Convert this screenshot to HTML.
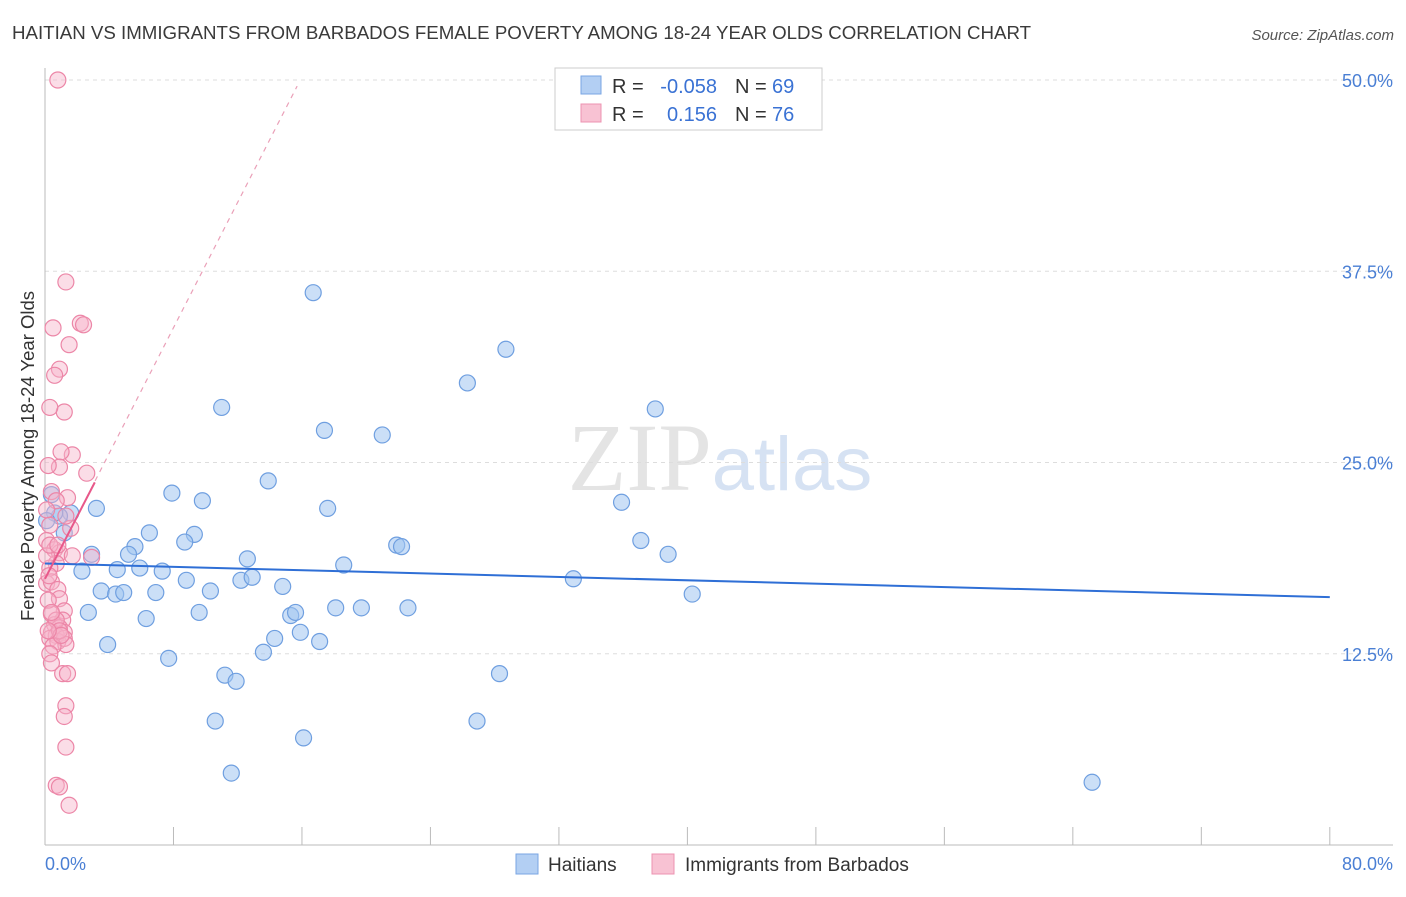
<!DOCTYPE html>
<html><head><meta charset="utf-8">
<style>
body{margin:0;background:#fff;font-family:"Liberation Sans",sans-serif;}
</style></head>
<body>
<svg id="chart" width="1406" height="892" xmlns="http://www.w3.org/2000/svg" font-family="Liberation Sans, sans-serif">
<text x="12" y="39" font-size="18.7" fill="#3a3a3a">HAITIAN VS IMMIGRANTS FROM BARBADOS FEMALE POVERTY AMONG 18-24 YEAR OLDS CORRELATION CHART</text>
<text x="1394" y="40" font-size="15" fill="#555" text-anchor="end" font-style="italic">Source: ZipAtlas.com</text>
<text x="720" y="490" font-size="96" fill="#e4e4e4" text-anchor="middle" font-family="Liberation Serif, serif">ZIP<tspan fill="#d6e2f3" font-family="Liberation Sans, sans-serif" font-size="76">atlas</tspan></text>
<g id="grid"></g>
<g id="axes"></g>
<g id="marks"></g>
<text transform="translate(34,456) rotate(-90)" font-size="18.5" fill="#333" text-anchor="middle">Female Poverty Among 18-24 Year Olds</text>
<g>
<rect x="555" y="68" width="267" height="62" fill="#fff" stroke="#ccc"/>
<rect x="581" y="76" width="20" height="18" fill="#b3cff3" stroke="#7aa6e3"/>
<rect x="581" y="104" width="20" height="18" fill="#f8c2d3" stroke="#ec93b0"/>
<text x="612" y="93" font-size="20" fill="#333">R =</text>
<text x="717" y="93" font-size="20" fill="#3a72d4" text-anchor="end">-0.058</text>
<text x="735" y="93" font-size="20" fill="#333">N =</text>
<text x="772" y="93" font-size="20" fill="#3a72d4">69</text>
<text x="612" y="121" font-size="20" fill="#333">R =</text>
<text x="717" y="121" font-size="20" fill="#3a72d4" text-anchor="end">0.156</text>
<text x="735" y="121" font-size="20" fill="#333">N =</text>
<text x="772" y="121" font-size="20" fill="#3a72d4">76</text>
</g>
<g>
<rect x="516" y="854" width="22" height="20" fill="#b3cff3" stroke="#7aa6e3"/>
<text x="548" y="871" font-size="19" fill="#333">Haitians</text>
<rect x="652" y="854" width="22" height="20" fill="#f8c2d3" stroke="#ec93b0"/>
<text x="685" y="871" font-size="19" fill="#333">Immigrants from Barbados</text>
</g>
</svg>
<script>
const xTicks=[0,8,16,24,32,40,48,56,64,72,80];
const yTicks=[12.5,25,37.5,50];
const yTickLabels=["12.5%","25.0%","37.5%","50.0%"];
const blueX=[16.7,28.7,26.3,38.0,11.0,17.4,21.0,13.9,7.9,9.8,3.2,17.6,35.9,0.4,1.6,0.9,1.2,6.5,9.3,8.7,5.6,37.1,38.8,21.9,22.2,2.9,5.2,12.6,18.6,2.3,4.5,5.9,7.3,32.9,8.8,12.2,12.9,14.8,3.5,4.4,4.9,6.9,10.3,40.3,2.7,9.6,6.3,15.3,15.6,18.1,19.7,22.6,15.9,14.3,17.1,3.9,13.6,7.7,11.2,11.9,28.3,10.6,26.9,16.1,11.6,65.2,0.6,0.1];
const blueY=[36.1,32.4,30.2,28.5,28.6,27.1,26.8,23.8,23.0,22.5,22.0,22.0,22.4,22.9,21.7,21.5,20.4,20.4,20.3,19.8,19.5,19.9,19.0,19.6,19.5,19.0,19.0,18.7,18.3,17.9,18.0,18.1,17.9,17.4,17.3,17.3,17.5,16.9,16.6,16.4,16.5,16.5,16.6,16.4,15.2,15.2,14.8,15.0,15.2,15.5,15.5,15.5,13.9,13.5,13.3,13.1,12.6,12.2,11.1,10.7,11.2,8.1,8.1,7.0,4.7,4.1,21.7,21.2];
const pinkX=[0.8,1.3,0.5,2.2,2.4,1.5,0.9,0.6,1.2,0.3,1.7,1.0,2.6,0.9,0.2,0.4,1.4,0.7,0.1,1.6,0.3,0.1,0.6,0.9,1.7,2.9,0.7,0.3,0.1,0.4,0.8,0.9,1.2,0.4,1.1,0.6,0.9,0.4,1.2,0.7,0.3,0.8,1.2,1.3,0.5,0.3,0.4,1.1,1.4,1.3,1.2,1.3,0.7,0.9,1.5,0.2,0.25,0.1,0.3,0.7,0.9,1.0,0.2,0.4,1.3,0.8];
const pinkY=[50.0,36.8,33.8,34.1,34.0,32.7,31.1,30.7,28.3,28.6,25.5,25.7,24.3,24.7,24.8,23.1,22.7,22.5,21.9,20.7,20.9,19.9,19.3,19.1,18.9,18.8,18.4,18.1,17.1,17.2,16.7,16.1,15.3,15.1,14.7,14.4,14.2,13.9,13.9,13.7,13.5,13.3,13.5,13.1,13.0,12.5,11.9,11.2,11.2,9.1,8.4,6.4,3.9,3.8,2.6,16.0,17.6,18.9,19.6,14.7,14.0,13.7,14.0,15.2,21.5,19.6];
const X=v=>45+v*16.06, Y=v=>845-v*15.3;
const NS="http://www.w3.org/2000/svg";
function mk(p,t,a){const e=document.createElementNS(NS,t);for(const k in a)e.setAttribute(k,a[k]);document.getElementById(p).appendChild(e);return e;}
yTicks.forEach((t,i)=>{
 const g=mk('grid','line',{x1:45,x2:1393,y1:Y(t),y2:Y(t),stroke:'#ddd','stroke-dasharray':'4,4'});
 
 
 const l=mk('axes','text',{x:1393,y:Y(t)+7,'font-size':18,fill:'#4a7fd4','text-anchor':'end'});
 l.textContent=yTickLabels[i];
 
 
});
const ax=mk('axes','line',{x1:45,x2:1393,y1:845,y2:845,stroke:'#bbb'});


const ay=mk('axes','line',{x1:45,x2:45,y1:68,y2:845,stroke:'#bbb'});


xTicks.forEach(t=>{
 const tk=mk('axes','line',{x1:X(t),x2:X(t),y1:827,y2:845,stroke:'#bbb'});
 
 
});
const xl0=mk('axes','text',{x:45,y:870,'font-size':18,fill:'#4a7fd4'});xl0.textContent=xTicks[0].toFixed(1)+'%';


const xl1=mk('axes','text',{x:1393,y:870,'font-size':18,fill:'#4a7fd4','text-anchor':'end'});xl1.textContent=xTicks[xTicks.length-1].toFixed(1)+'%';


blueX.forEach((x,i)=>{
 const c=mk('marks','circle',{cx:X(x),cy:Y(blueY[i]),r:8,fill:'rgba(160,196,240,0.55)',stroke:'#6f9fe0','stroke-width':1.2});
 
 
});
pinkX.forEach((x,i)=>{
 const c=mk('marks','circle',{cx:X(x),cy:Y(pinkY[i]),r:8,fill:'rgba(246,180,202,0.45)',stroke:'#ec86a7','stroke-width':1.2});
 
 
});
const bl=mk('marks','line',{x1:X(0),y1:Y(18.4),x2:X(80),y2:Y(16.2),stroke:'#2f6fd6','stroke-width':2});


const pd=mk('marks','line',{x1:X(0),y1:Y(17.4),x2:X(15.7),y2:Y(49.6),stroke:'#eaa0b8','stroke-width':1.2,'stroke-dasharray':'5,5'});


const ps=mk('marks','line',{x1:X(0),y1:Y(17.4),x2:X(3.1),y2:Y(23.7),stroke:'#e8588a','stroke-width':2});


</script>
</body></html>
